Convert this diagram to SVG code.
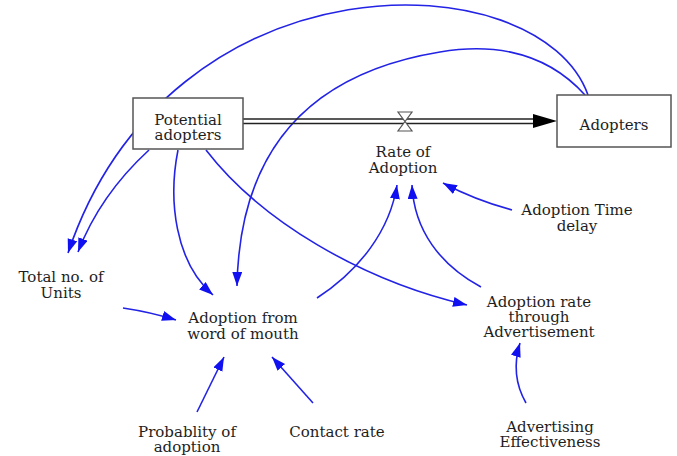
<svg xmlns="http://www.w3.org/2000/svg" width="677" height="456" viewBox="0 0 677 456">
<defs>
<style>
text{font-family:"DejaVu Serif","Liberation Serif",serif;font-size:15px;fill:#1e1e1e;text-anchor:middle}
.box{fill:#fff;stroke:#555;stroke-width:1.5}
.link{fill:none;stroke:#2323e6;stroke-width:1.6}
.pipe{stroke:#222;stroke-width:1.4;fill:none}
</style>
<marker id="ah" markerUnits="userSpaceOnUse" markerWidth="16" markerHeight="12" refX="14" refY="5" orient="auto">
<path d="M0,0 L14,5 L0,10 z" fill="#1010f0"/>
</marker>
</defs>
<rect width="677" height="456" fill="#fff"/>
<g id="connectors">
<path class="link" marker-end="url(#ah)" d="M588,95 C540,-40 170,-50 68,253"/>
<path class="link" marker-end="url(#ah)" d="M585,95 C540,45 480,45 440,52 C330,70 240,130 237,286"/>
<path class="link" marker-end="url(#ah)" d="M149,150 Q100,195 78,252"/>
<path class="link" marker-end="url(#ah)" d="M178,150 C168,200 175,262 213,295"/>
<path class="link" marker-end="url(#ah)" d="M206,150 C260,220 360,280 467,305"/>
<path class="link" marker-end="url(#ah)" d="M317,298 C360,270 390,230 397,185"/>
<path class="link" marker-end="url(#ah)" d="M481,287 C440,265 414,230 412,185"/>
<path class="link" marker-end="url(#ah)" d="M512,210 Q475,200 443,183"/>
<path class="link" marker-end="url(#ah)" d="M123,308 Q150,312 176,320"/>
<path class="link" marker-end="url(#ah)" d="M197,412 L224,357"/>
<path class="link" marker-end="url(#ah)" d="M313,403 L272,357"/>
<path class="link" marker-end="url(#ah)" d="M526,403 Q510,375 520,343"/>
</g>
<g id="flow">
<line class="pipe" x1="243" y1="119" x2="536" y2="119"/>
<line class="pipe" x1="243" y1="123.5" x2="536" y2="123.5"/>
<path d="M533,114 L557,121 L533,128 z" fill="#000"/>
<path d="M398,112 L412,112 L405,121.5 z M405,121.5 L412,131 L398,131 z" fill="#fff" stroke="#555" stroke-width="1.2"/>
</g>
<g id="potential-adopters">
<rect class="box" x="133" y="98" width="110" height="51"/>
<text x="188" y="125">Potential</text>
<text x="188" y="140">adopters</text>
</g>
<g id="adopters">
<rect class="box" x="557" y="95" width="114" height="52"/>
<text x="614" y="130">Adopters</text>
</g>
<g id="rate-of-adoption">
<text x="403" y="157">Rate of</text>
<text x="403" y="173">Adoption</text>
</g>
<g id="total-units">
<text x="61" y="282">Total no. of</text>
<text x="61" y="298">Units</text>
</g>
<g id="adoption-wom">
<text x="243" y="323">Adoption from</text>
<text x="243" y="339">word of mouth</text>
</g>
<g id="probability">
<text x="187" y="437">Probablity of</text>
<text x="187" y="452">adoption</text>
</g>
<g id="contact-rate">
<text x="337" y="437">Contact rate</text>
</g>
<g id="adoption-time-delay">
<text x="577" y="215">Adoption Time</text>
<text x="577" y="231">delay</text>
</g>
<g id="adoption-rate-advert">
<text x="539" y="307">Adoption rate</text>
<text x="539" y="322">through</text>
<text x="539" y="337">Advertisement</text>
</g>
<g id="advertising-effectiveness">
<text x="550" y="432">Advertising</text>
<text x="550" y="447">Effectiveness</text>
</g>
</svg>
